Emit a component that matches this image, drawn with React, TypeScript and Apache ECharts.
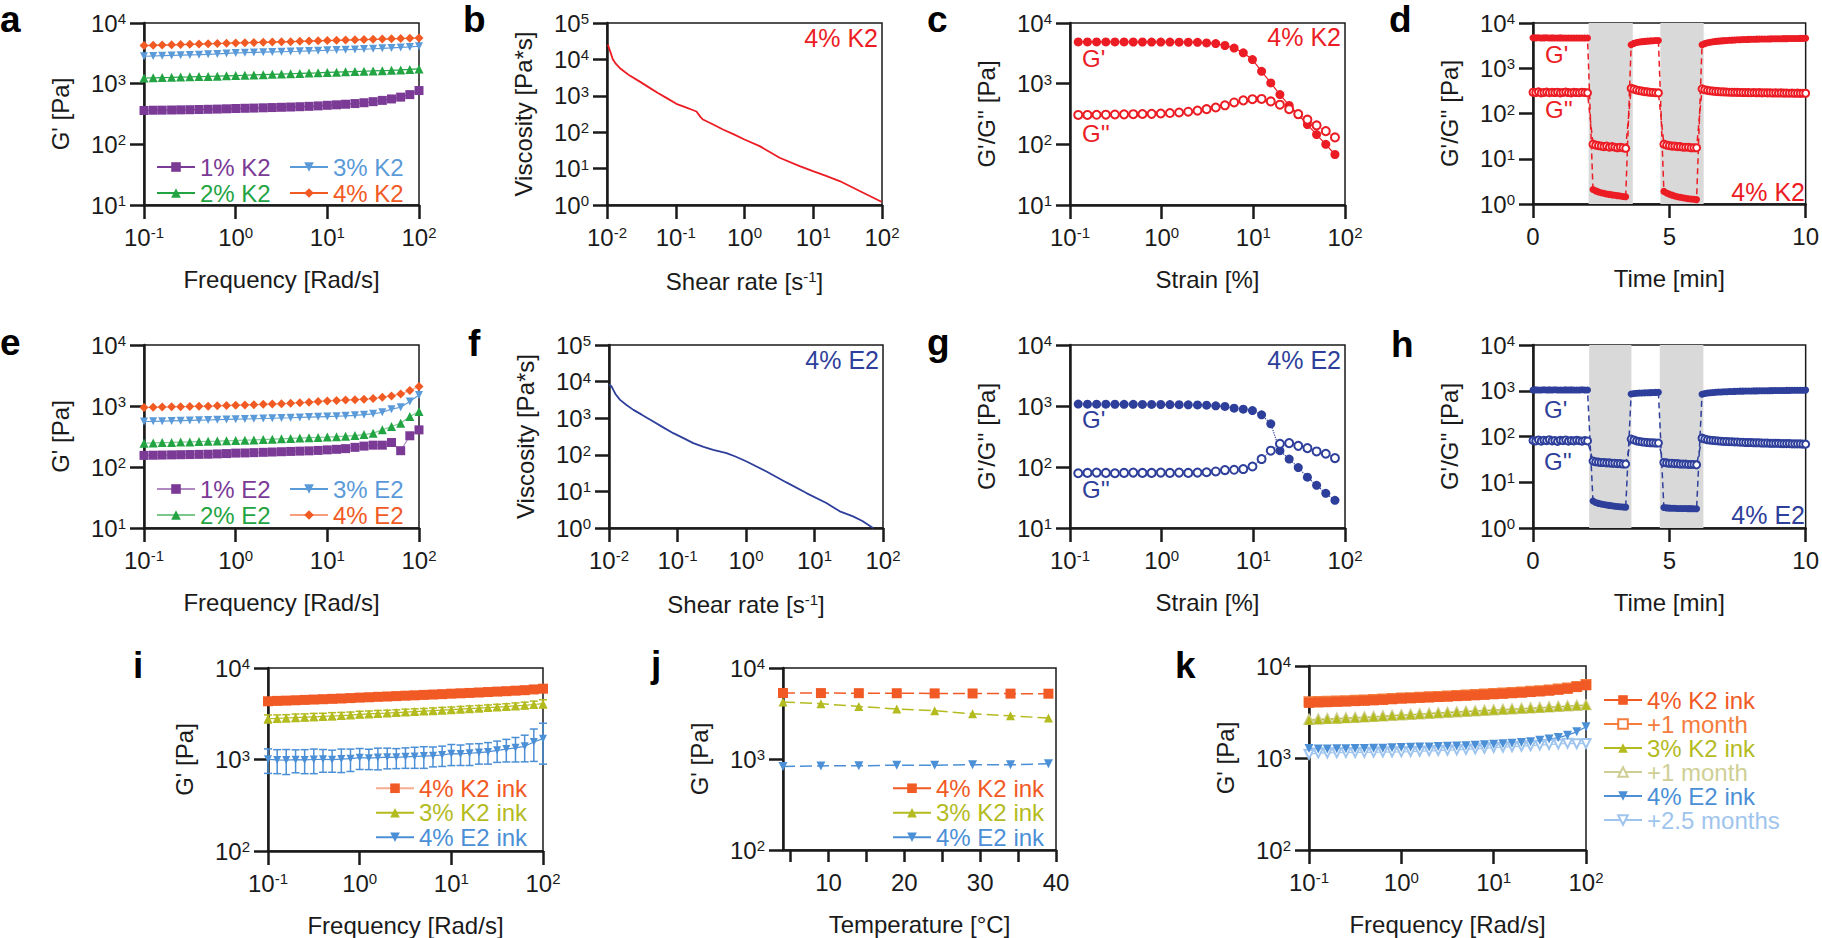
import React, { useEffect, useRef } from 'react';
import * as echarts from 'echarts';

const FF = "'Liberation Sans', Arial, Helvetica, sans-serif";
const INK = '#1a1a1a';

// ---------- colours ----------
const PURPLE = '#7b3a96';
const GREEN = '#23a443';
const LBLUE = '#5b9ad8';
const ORANGE = '#f25a24';
const RED = '#ec1c24';
const NAVY = '#2e3f9b';
const INK_OR = '#f15a24';
const INK_OL = '#b4bb1f';
const INK_BL = '#4b8fd6';
const INK_OR_M = '#f47c3c';
const INK_OL_M = '#cfcf95';
const INK_BL_M = '#9fc5ee';

// ---------- data ----------
const FREQ = [0.1, 0.126, 0.158, 0.2, 0.251, 0.316, 0.398, 0.501, 0.631, 0.794, 1, 1.26, 1.58, 2, 2.51, 3.16, 3.98, 5.01, 6.31, 7.94, 10, 12.6, 15.8, 20, 25.1, 31.6, 39.8, 50.1, 63.1, 79.4, 100];

// panel a (K2 frequency sweeps)
const A_1 = [361, 365, 366, 368, 370, 372, 375, 378, 381, 385, 390, 393, 396, 400, 404, 408, 412, 417, 423, 430, 440, 448, 458, 470, 485, 505, 530, 560, 600, 660, 770];
const A_2 = [1240, 1250, 1262, 1272, 1285, 1295, 1307, 1318, 1330, 1345, 1360, 1376, 1392, 1408, 1424, 1440, 1458, 1475, 1492, 1510, 1530, 1548, 1566, 1584, 1602, 1620, 1640, 1660, 1685, 1715, 1750];
const A_3 = [2830, 2860, 2890, 2920, 2950, 2980, 3010, 3050, 3090, 3150, 3215, 3240, 3270, 3300, 3330, 3360, 3390, 3420, 3460, 3500, 3556, 3590, 3630, 3670, 3710, 3760, 3820, 3880, 3950, 4040, 4140];
const A_4 = [4250, 4290, 4330, 4370, 4410, 4450, 4490, 4540, 4590, 4640, 4690, 4730, 4770, 4810, 4850, 4890, 4930, 4980, 5030, 5080, 5130, 5180, 5230, 5280, 5330, 5380, 5430, 5490, 5550, 5610, 5670];

// panel e (E2 frequency sweeps)
const E_1 = [155, 156, 157, 158, 159, 160, 161, 162, 164, 166, 169, 170, 172, 174, 176, 178, 180, 182, 184, 187, 191, 195, 200, 210, 220, 228, 228, 252, 185, 325, 406];
const E_2 = [246, 248, 251, 253, 256, 258, 261, 264, 266, 269, 272, 275, 278, 282, 286, 290, 294, 298, 302, 305, 309, 314, 320, 328, 340, 359, 407, 461, 522, 672, 811];
const E_3 = [557, 560, 565, 570, 575, 580, 585, 590, 596, 602, 608, 612, 618, 624, 630, 636, 642, 650, 658, 665, 672, 680, 690, 702, 720, 743, 790, 887, 955, 1183, 1520];
const E_4 = [944, 955, 962, 970, 975, 982, 988, 995, 1005, 1018, 1030, 1040, 1052, 1064, 1078, 1092, 1110, 1130, 1150, 1180, 1213, 1230, 1250, 1270, 1295, 1323, 1390, 1465, 1580, 1792, 2085];

// panel b / f (viscosity)
const B_X = [0.0103, 0.0112, 0.0122, 0.0135, 0.0153, 0.018, 0.0214, 0.03, 0.0418, 0.055, 0.073, 0.102, 0.14, 0.169, 0.2, 0.23, 0.249, 0.35, 0.486, 0.7, 1.0, 1.66, 3.24, 6.34, 9.9, 15, 24.2, 47.3, 98];
const B_Y = [25500, 16000, 9880, 7500, 5830, 4600, 3590, 2450, 1650, 1200, 877, 601, 480, 420, 370, 260, 223, 163, 119, 87, 63, 41.5, 19.9, 11.7, 8.55, 6.4, 4.55, 2.42, 1.23];
const F_X = [0.01, 0.0108, 0.01156, 0.0125, 0.0145, 0.018, 0.0227, 0.03, 0.0443, 0.06, 0.0867, 0.12, 0.17, 0.24, 0.332, 0.52, 0.7, 1.02, 1.99, 3.89, 7.62, 14.9, 23.4, 36.5, 50, 71.5];
const F_Y = [8110, 7600, 5930, 4500, 3160, 2300, 1690, 1250, 811, 580, 390, 290, 208, 165, 137, 111, 90, 65.8, 35.1, 17.6, 9.0, 4.8, 2.85, 2.08, 1.55, 1.0];

// panel c / g (strain sweeps)
const STRAIN = [0.123, 0.155, 0.195, 0.246, 0.309, 0.389, 0.49, 0.617, 0.777, 0.978, 1.23, 1.55, 1.95, 2.46, 3.09, 3.89, 4.9, 6.17, 7.77, 9.78, 12.3, 15.5, 19.5, 24.6, 30.9, 38.9, 49, 61.7, 77.7];
const C_G1 = [4880, 4880, 4880, 4870, 4870, 4870, 4860, 4860, 4850, 4850, 4840, 4830, 4820, 4800, 4700, 4580, 4260, 3860, 3230, 2500, 1600, 1030, 660, 437, 310, 212, 145, 100, 68];
const C_G2 = [305, 305, 307, 308, 310, 312, 314, 316, 318, 322, 328, 335, 345, 360, 380, 405, 440, 490, 530, 555, 560, 510, 450, 380, 315, 255, 205, 165, 130];
const G_G1 = [1075, 1072, 1070, 1070, 1068, 1066, 1065, 1062, 1060, 1058, 1055, 1050, 1045, 1040, 1030, 1005, 985, 920, 887, 843, 716, 510, 185, 135, 98, 68, 50, 37, 28.4];
const G_G2 = [79, 80, 81, 80, 79, 80, 81, 80, 80, 81, 80, 81, 80, 81, 82, 84.5, 89, 90, 92.5, 102, 135, 185, 240, 246, 222, 204, 180, 165, 140];

// panel d / h (step strain, time in min)
const TIME = [
  0, 0.1, 0.2, 0.3, 0.4, 0.5, 0.6, 0.7, 0.8, 0.9, 1, 1.1, 1.2, 1.3, 1.4, 1.5, 1.6, 1.7, 1.8, 1.9, 2,
  2.2, 2.3, 2.4, 2.5, 2.6, 2.7, 2.8, 2.9, 3, 3.1, 3.2, 3.3, 3.4,
  3.6, 3.7, 3.8, 3.9, 4, 4.1, 4.2, 4.3, 4.4, 4.5, 4.6,
  4.8, 4.9, 5, 5.1, 5.2, 5.3, 5.4, 5.5, 5.6, 5.7, 5.8, 5.9, 6,
  6.2, 6.3, 6.4, 6.5, 6.6, 6.7, 6.8, 6.9, 7, 7.1, 7.2, 7.3, 7.4, 7.5, 7.6, 7.7, 7.8, 7.9, 8, 8.1, 8.2, 8.3, 8.4, 8.5, 8.6, 8.7, 8.8, 8.9, 9, 9.1, 9.2, 9.3, 9.4, 9.5, 9.6, 9.7, 9.8, 9.9, 10,
];
const D_G1 = [
  4700, 4690, 4700, 4680, 4690, 4700, 4680, 4690, 4670, 4680, 4690, 4670, 4680, 4660, 4670, 4680, 4660, 4670, 4650, 4660, 4650,
  2.1, 1.95, 1.85, 1.78, 1.72, 1.67, 1.63, 1.59, 1.56, 1.53, 1.5, 1.47, 1.45,
  3300, 3550, 3700, 3800, 3870, 3930, 3980, 4020, 4060, 4090, 4120,
  1.9, 1.75, 1.65, 1.57, 1.5, 1.45, 1.41, 1.37, 1.34, 1.31, 1.29, 1.27, 1.25,
  3300, 3500, 3650, 3760, 3850, 3920, 3980, 4030, 4080, 4120, 4160, 4190, 4220, 4250, 4280, 4300, 4320, 4340, 4360, 4380, 4400, 4410, 4420, 4440, 4450, 4460, 4470, 4480, 4490, 4500, 4510, 4520, 4530, 4540, 4550, 4560, 4570, 4580, 4600,
];
const D_G2 = [
  295, 290, 300, 285, 292, 298, 288, 294, 290, 296, 286, 292, 298, 290, 285, 294, 290, 288, 296, 290, 286,
  21, 20, 19.5, 19, 18.5, 19, 18, 18.5, 18, 17.5, 18, 17.5, 17,
  360, 345, 330, 320, 312, 305, 300, 295, 292, 288, 285,
  21, 20, 19.5, 19, 19, 18.5, 18.5, 18, 18, 18, 17.5, 17.5, 17.5,
  350, 335, 325, 318, 312, 308, 305, 302, 300, 298, 296, 295, 294, 293, 292, 291, 290, 289, 288, 290, 287, 289, 286, 288, 285, 287, 284, 286, 283, 285, 282, 284, 281, 283, 280, 282, 279, 281, 280,
];
const H_G1 = [
  1040, 1045, 1038, 1042, 1050, 1040, 1044, 1036, 1048, 1040, 1042, 1038, 1046, 1040, 1044, 1036, 1042, 1040, 1048, 1038, 1040,
  3.9, 3.6, 3.45, 3.35, 3.25, 3.18, 3.12, 3.06, 3.0, 2.96, 2.92, 2.89, 2.86,
  850, 870, 880, 890, 895, 900, 905, 910, 915, 920, 925,
  2.8, 2.75, 2.72, 2.7, 2.7, 2.68, 2.68, 2.66, 2.66, 2.65, 2.65, 2.64, 2.64,
  840, 870, 890, 905, 915, 925, 935, 940, 948, 955, 960, 965, 970, 975, 980, 982, 985, 988, 990, 993, 995, 998, 1000, 1002, 1004, 1006, 1008, 1010, 1012, 1014, 1016, 1018, 1020, 1022, 1024, 1026, 1028, 1030, 1032,
];
const H_G2 = [
  82, 80, 84, 79, 83, 81, 85, 80, 82, 78, 83, 81, 84, 79, 82, 80, 83, 81, 79, 82, 80,
  29, 28, 27.5, 27, 27, 26.5, 26.5, 26, 26, 25.5, 25.5, 25, 25,
  88, 84, 80, 78, 76, 75, 74, 73, 73, 72, 72,
  27, 26.5, 26, 26, 25.5, 25.5, 25, 25, 25, 24.5, 24.5, 24.5, 24,
  92, 88, 85, 83, 82, 81, 80, 79, 78, 78, 77, 77, 76, 76, 75, 75, 74, 74, 74, 73, 73, 73, 72, 72, 72, 71, 71, 71, 71, 70, 70, 70, 70, 69, 69, 69, 69, 68, 68,
];
const SHADE_D = [[2.04, 3.66], [4.67, 6.26]];
const SHADE_H = [[2.06, 3.61], [4.65, 6.25]];

// panel i (inks, with SD)
const I_K4 = [4330, 4370, 4400, 4440, 4480, 4520, 4560, 4600, 4640, 4690, 4745, 4790, 4840, 4880, 4930, 4980, 5030, 5080, 5130, 5180, 5240, 5290, 5340, 5400, 5460, 5520, 5580, 5650, 5720, 5830, 5940];
const I_K3 = [2790, 2810, 2840, 2870, 2900, 2930, 2960, 2990, 3020, 3060, 3115, 3150, 3185, 3220, 3260, 3300, 3340, 3380, 3420, 3460, 3505, 3550, 3595, 3640, 3690, 3740, 3790, 3850, 3910, 3990, 4075];
const I_K3_SD = [280, 260, 250, 270, 250, 260, 240, 260, 250, 240, 250, 240, 250, 240, 230, 250, 240, 230, 240, 250, 240, 250, 260, 250, 260, 270, 280, 300, 320, 360, 420];
const I_E4 = [1005, 990, 985, 995, 990, 1000, 1005, 995, 1010, 1020, 1048, 1035, 1050, 1060, 1055, 1070, 1080, 1090, 1100, 1120, 1158, 1150, 1170, 1190, 1210, 1260, 1300, 1340, 1393, 1553, 1690];
const I_E4_SD = [300, 290, 300, 280, 290, 300, 280, 270, 290, 280, 270, 260, 280, 270, 260, 270, 280, 290, 270, 280, 300, 290, 310, 300, 320, 330, 360, 400, 450, 600, 800];

// panel j (temperature)
const TEMP = [4, 9, 14, 19, 24, 29, 34, 39];
const J_K4 = [5310, 5300, 5290, 5280, 5260, 5250, 5230, 5220];
const J_K3 = [4230, 4050, 3785, 3540, 3390, 3140, 2985, 2815];
const J_E4 = [826, 840, 842, 856, 856, 866, 862, 885];

// panel k (storage)
const K_K4 = [3975, 4010, 4040, 4080, 4110, 4150, 4190, 4230, 4280, 4350, 4430, 4470, 4510, 4550, 4600, 4650, 4700, 4750, 4800, 4860, 4930, 4990, 5060, 5130, 5210, 5300, 5400, 5520, 5660, 5900, 6170];
const K_K4M = [4080, 4100, 4130, 4160, 4200, 4240, 4280, 4320, 4370, 4420, 4480, 4520, 4570, 4620, 4670, 4720, 4770, 4830, 4890, 4950, 5010, 5080, 5150, 5220, 5300, 5390, 5490, 5610, 5760, 5980, 6300];
const K_K3 = [2570, 2600, 2630, 2660, 2690, 2720, 2750, 2790, 2830, 2870, 2920, 2950, 2990, 3030, 3070, 3110, 3150, 3190, 3230, 3270, 3305, 3340, 3380, 3420, 3460, 3500, 3550, 3600, 3650, 3700, 3740];
const K_K3M = [2620, 2650, 2680, 2700, 2730, 2760, 2790, 2820, 2860, 2900, 2940, 2970, 3010, 3050, 3090, 3130, 3170, 3210, 3250, 3290, 3330, 3370, 3410, 3450, 3490, 3530, 3580, 3630, 3680, 3730, 3780];
const K_E4 = [1268, 1250, 1255, 1260, 1262, 1265, 1270, 1275, 1280, 1290, 1300, 1305, 1315, 1320, 1330, 1340, 1350, 1360, 1375, 1390, 1413, 1425, 1445, 1470, 1500, 1561, 1610, 1667, 1770, 1925, 2180];
const K_E4M = [1100, 1130, 1135, 1140, 1145, 1150, 1152, 1155, 1160, 1162, 1167, 1175, 1185, 1195, 1205, 1215, 1225, 1240, 1255, 1275, 1300, 1310, 1325, 1340, 1360, 1380, 1400, 1420, 1445, 1430, 1437];

const J_LABELS = [10, 20, 30, 40];
const J_TICKS = [5, 10, 15, 20, 25, 30, 35, 40];

// ---------- layout ----------
const GRIDS = [
  { left: 144, top: 23, width: 275, height: 182 }, // a
  { left: 607, top: 23, width: 275, height: 182 }, // b
  { left: 1070, top: 23, width: 275, height: 182 }, // c
  { left: 1533, top: 23, width: 274, height: 181 }, // d
  { left: 144, top: 345, width: 275, height: 183 }, // e
  { left: 609, top: 345, width: 274, height: 183 }, // f
  { left: 1070, top: 345, width: 275, height: 183 }, // g
  { left: 1533, top: 345, width: 274, height: 183 }, // h
  { left: 268, top: 668, width: 275, height: 183 }, // i
  { left: 783, top: 668, width: 273, height: 182 }, // j
  { left: 1309, top: 666, width: 277, height: 184 }, // k
];

const supLabel = (v: number) => `{b|10}{s|${Math.round(Math.log10(v))}}`;
const RICH: any = {
  b: { fontSize: 24, fontFamily: FF, color: INK },
  s: { fontSize: 15, fontFamily: FF, color: INK, verticalAlign: 'top' },
};
const NAME_RICH: any = {
  t: { fontSize: 24, fontFamily: FF, color: INK },
  u: { fontSize: 15, fontFamily: FF, color: INK, verticalAlign: 'top' },
};

function baseAxis(gi: number, extra: any) {
  return {
    gridIndex: gi,
    axisLine: { show: true, onZero: false, lineStyle: { color: INK, width: 2.5 } },
    axisTick: { show: true, inside: false, length: 14, lineStyle: { color: INK, width: 2.5 } },
    minorTick: { show: false },
    splitLine: { show: false },
    minorSplitLine: { show: false },
    nameLocation: 'middle',
    nameTextStyle: { fontSize: 24, fontFamily: FF, color: INK, rich: NAME_RICH },
    ...extra,
  };
}
const xLog = (gi: number, min: number, max: number, name: string, gap = 62) =>
  baseAxis(gi, {
    type: 'log', logBase: 10, min, max, name, nameGap: gap,
    axisLabel: { formatter: supLabel, rich: RICH, margin: 20, showMinLabel: true, showMaxLabel: true },
  });
const yLog = (gi: number, min: number, max: number, name: string) =>
  baseAxis(gi, {
    type: 'log', logBase: 10, min, max, name, nameGap: 72,
    axisLabel: { formatter: supLabel, rich: RICH, margin: 18, showMinLabel: true, showMaxLabel: true },
  });
const xVal = (gi: number, min: number, max: number, name: string, extra: any = {}) =>
  baseAxis(gi, {
    type: 'value', min, max, name, nameGap: 62,
    axisLabel: { fontSize: 24, fontFamily: FF, color: INK, margin: 20, showMinLabel: true, showMaxLabel: true, ...(extra.axisLabel || {}) },
    ...(extra.rest || {}),
  });

function ls(name: string, gi: number, xs: number[], ys: number[], color: string, symbol: string, size: number, o: any = {}) {
  return {
    type: 'line', name, xAxisIndex: gi, yAxisIndex: gi,
    data: xs.map((x, i) => [x, ys[i]]),
    symbol, symbolSize: size, symbolRotate: o.rotate || 0,
    showSymbol: symbol !== 'none', showAllSymbol: true,
    itemStyle: { color, borderColor: color, borderWidth: o.bw ?? 0 },
    lineStyle: { color: o.lineColor || color, width: o.lw ?? 1.2, type: o.dash || 'solid', opacity: o.lop ?? 1 },
    emphasis: { disabled: true },
    z: o.z ?? 3, silent: true,
    ...(o.extra || {}),
  };
}

function errSeries(name: string, gi: number, xs: number[], ys: number[], sd: number[], color: string) {
  return {
    type: 'custom', name, xAxisIndex: gi, yAxisIndex: gi, z: 2, silent: true,
    data: xs.map((x, i) => [x, ys[i] - sd[i], ys[i] + sd[i]]),
    encode: { x: 0, y: [1, 2] },
    renderItem: (_p: any, api: any) => {
      const lo = api.coord([api.value(0), api.value(1)]);
      const hi = api.coord([api.value(0), api.value(2)]);
      const w = 4;
      const style = { stroke: color, lineWidth: 1.5, fill: 'none' };
      return {
        type: 'group',
        children: [
          { type: 'line', shape: { x1: lo[0], y1: lo[1], x2: hi[0], y2: hi[1] }, style },
          { type: 'line', shape: { x1: lo[0] - w, y1: lo[1], x2: lo[0] + w, y2: lo[1] }, style },
          { type: 'line', shape: { x1: hi[0] - w, y1: hi[1], x2: hi[0] + w, y2: hi[1] }, style },
        ],
      };
    },
  };
}

function legend(left: number, top: number, lineHeight: number, names: string[], colors: string[], extra: any = {}) {
  return {
    left, top, orient: 'vertical', padding: 0, itemGap: 0, itemWidth: 38, itemHeight: 12,
    selectedMode: false,
    textStyle: { fontSize: 24, fontFamily: FF, lineHeight },
    formatter: (n: string) => n.split('|')[0],
    data: names.map((n, i) => ({ name: n, textStyle: { color: colors[i] } })),
    ...extra,
  };
}

function txt(text: string, x: number, baseline: number, size: number, color: string, bold = false, align = 'left') {
  return {
    type: 'text', x, y: baseline - 0.35 * size, silent: true,
    style: {
      text, fill: color, font: `${bold ? 'bold ' : ''}${size}px ${FF}`,
      align, verticalAlign: 'middle', textAlign: align, textVerticalAlign: 'middle',
    },
  };
}

function buildOption() {
  const xAxis = [
    xLog(0, 0.1, 100, 'Frequency [Rad/s]'),
    xLog(1, 0.01, 100, '{t|Shear rate [s}{u|-1}{t|]}', 64),
    xLog(2, 0.1, 100, 'Strain [%]'),
    xVal(3, 0, 10, 'Time [min]', { rest: { interval: 5 } }),
    xLog(4, 0.1, 100, 'Frequency [Rad/s]'),
    xLog(5, 0.01, 100, '{t|Shear rate [s}{u|-1}{t|]}', 64),
    xLog(6, 0.1, 100, 'Strain [%]'),
    xVal(7, 0, 10, 'Time [min]', { rest: { interval: 5 } }),
    xLog(8, 0.1, 100, 'Frequency [Rad/s]'),
    xVal(9, 4, 40, 'Temperature [°C]', {
      axisLabel: { customValues: J_LABELS },
      rest: { axisTick: { show: true, length: 12, customValues: J_TICKS, lineStyle: { color: INK, width: 2.5 } } },
    }),
    xLog(10, 0.1, 100, 'Frequency [Rad/s]'),
  ];
  const GG = "G'/G'' [Pa]";
  const yAxis = [
    yLog(0, 10, 1e4, "G' [Pa]"),
    yLog(1, 1, 1e5, 'Viscosity [Pa*s]'),
    yLog(2, 10, 1e4, GG),
    yLog(3, 1, 1e4, GG),
    yLog(4, 10, 1e4, "G' [Pa]"),
    yLog(5, 1, 1e5, 'Viscosity [Pa*s]'),
    yLog(6, 10, 1e4, GG),
    yLog(7, 1, 1e4, GG),
    yLog(8, 100, 1e4, "G' [Pa]"),
    yLog(9, 100, 1e4, "G' [Pa]"),
    yLog(10, 100, 1e4, "G' [Pa]"),
  ];

  const shade = (sh: number[][]) => ({
    silent: true,
    itemStyle: { color: '#d9d9d9' },
    data: sh.map(([a, b]) => [{ xAxis: a }, { xAxis: b }]),
  });

  const series: any[] = [
    // a
    ls('1% K2|a', 0, FREQ, A_1, PURPLE, 'rect', 9),
    ls('2% K2|a', 0, FREQ, A_2, GREEN, 'triangle', 9),
    ls('3% K2|a', 0, FREQ, A_3, LBLUE, 'triangle', 8, { rotate: 180 }),
    ls('4% K2|a', 0, FREQ, A_4, ORANGE, 'diamond', 9),
    // b
    ls('visc K2', 1, B_X, B_Y, RED, 'none', 0, { lw: 1.8 }),
    // c
    ls("G' c", 2, STRAIN, C_G1, RED, 'circle', 9, { lw: 1.2 }),
    ls("G'' c", 2, STRAIN, C_G2, RED, 'emptyCircle', 8, { lw: 1, bw: 1.3, lineColor: '#f08080' }),
    // d
    ls("G' d", 3, TIME, D_G1, RED, 'circle', 7, { lw: 1.5, dash: [6, 4], extra: { markArea: shade(SHADE_D) } }),
    ls("G'' d", 3, TIME, D_G2, RED, 'emptyCircle', 7, { lw: 1.5, bw: 1.2, dash: [6, 4] }),
    // e
    ls('1% E2|e', 4, FREQ, E_1, PURPLE, 'rect', 9, { lop: 0.6 }),
    ls('2% E2|e', 4, FREQ, E_2, GREEN, 'triangle', 9, { lop: 0.6 }),
    ls('3% E2|e', 4, FREQ, E_3, LBLUE, 'triangle', 8, { rotate: 180 }),
    ls('4% E2|e', 4, FREQ, E_4, ORANGE, 'diamond', 9, { lop: 0.6 }),
    // f
    ls('visc E2', 5, F_X, F_Y, NAVY, 'none', 0, { lw: 1.8 }),
    // g
    ls("G' g", 6, STRAIN, G_G1, NAVY, 'circle', 9, { lw: 1.2, dash: 'dotted' }),
    ls("G'' g", 6, STRAIN, G_G2, NAVY, 'emptyCircle', 8, { lw: 1, bw: 1.3, lineColor: '#7f8cc8' }),
    // h
    ls("G' h", 7, TIME, H_G1, NAVY, 'circle', 7, { lw: 1.5, dash: [6, 4], extra: { markArea: shade(SHADE_H) } }),
    ls("G'' h", 7, TIME, H_G2, NAVY, 'emptyCircle', 7, { lw: 1.5, bw: 1.2, dash: [6, 4] }),
    // i
    errSeries('sd K3 i', 8, FREQ, I_K3, I_K3_SD, INK_OL),
    errSeries('sd E4 i', 8, FREQ, I_E4, I_E4_SD, INK_BL),
    ls('4% K2 ink|i', 8, FREQ, I_K4, INK_OR, 'rect', 10, { lop: 0.5 }),
    ls('3% K2 ink|i', 8, FREQ, I_K3, INK_OL, 'triangle', 9),
    ls('4% E2 ink|i', 8, FREQ, I_E4, INK_BL, 'triangle', 8, { rotate: 180 }),
    // j
    ls('4% K2 ink|j', 9, TEMP, J_K4, INK_OR, 'rect', 10, { lw: 1.5, dash: [12, 5] }),
    ls('3% K2 ink|j', 9, TEMP, J_K3, INK_OL, 'triangle', 9, { lw: 1.5, dash: [12, 5] }),
    ls('4% E2 ink|j', 9, TEMP, J_E4, INK_BL, 'triangle', 9, { rotate: 180, lw: 1.5, dash: [12, 5] }),
    // k
    ls('+1 month|k1', 10, FREQ, K_K4M, INK_OR_M, 'emptyRect', 9, { bw: 1.3 }),
    ls('4% K2 ink|k', 10, FREQ, K_K4, INK_OR, 'rect', 10),
    ls('+1 month|k2', 10, FREQ, K_K3M, INK_OL_M, 'emptyTriangle', 9, { bw: 1.3 }),
    ls('3% K2 ink|k', 10, FREQ, K_K3, INK_OL, 'triangle', 9),
    ls('+2.5 months|k', 10, FREQ, K_E4M, INK_BL_M, 'emptyTriangle', 9, { rotate: 180, bw: 1.3 }),
    ls('4% E2 ink|k', 10, FREQ, K_E4, INK_BL, 'triangle', 9, { rotate: 180 }),
  ];

  const legends = [
    legend(156, 154, 26, ['1% K2|a', '2% K2|a'], [PURPLE, GREEN]),
    legend(289, 154, 26, ['3% K2|a', '4% K2|a'], [LBLUE, ORANGE]),
    legend(156, 476, 26, ['1% E2|e', '2% E2|e'], [PURPLE, GREEN]),
    legend(289, 476, 26, ['3% E2|e', '4% E2|e'], [LBLUE, ORANGE]),
    legend(375, 776, 24.5, ['4% K2 ink|i', '3% K2 ink|i', '4% E2 ink|i'], [INK_OR, INK_OL, INK_BL]),
    legend(892, 776, 24.5, ['4% K2 ink|j', '3% K2 ink|j', '4% E2 ink|j'], [INK_OR, INK_OL, INK_BL], { lineStyle: { type: 'solid' } }),
    legend(1603, 688, 23, ['4% K2 ink|k', '+1 month|k1', '3% K2 ink|k', '+1 month|k2', '4% E2 ink|k', '+2.5 months|k'],
      [INK_OR, INK_OR_M, INK_OL, INK_OL_M, INK_BL, INK_BL_M]),
  ];

  const graphics = [
    txt('a', 0, 32, 37, '#000', true),
    txt('b', 463, 32, 37, '#000', true),
    txt('c', 927, 32, 37, '#000', true),
    txt('d', 1389, 32, 37, '#000', true),
    txt('e', 0, 355, 37, '#000', true),
    txt('f', 468, 356, 37, '#000', true),
    txt('g', 927, 355, 37, '#000', true),
    txt('h', 1391, 357, 37, '#000', true),
    txt('i', 133, 678, 37, '#000', true),
    txt('j', 651, 677, 37, '#000', true),
    txt('k', 1175, 678, 37, '#000', true),
    txt('4% K2', 878, 47, 25, RED, false, 'right'),
    txt('4% K2', 1341, 46, 25, RED, false, 'right'),
    txt("G'", 1082, 67, 24, RED),
    txt("G''", 1082, 142, 24, RED),
    txt("G'", 1545, 63, 24, RED),
    txt("G''", 1545, 118, 24, RED),
    txt('4% K2', 1805, 201, 25, RED, false, 'right'),
    txt('4% E2', 879, 369, 25, NAVY, false, 'right'),
    txt('4% E2', 1341, 369, 25, NAVY, false, 'right'),
    txt("G'", 1082, 428, 24, NAVY),
    txt("G''", 1082, 498, 24, NAVY),
    txt("G'", 1544, 418, 24, NAVY),
    txt("G''", 1544, 470, 24, NAVY),
    txt('4% E2', 1805, 524, 25, NAVY, false, 'right'),
  ];

  return {
    animation: false,
    backgroundColor: '#ffffff',
    textStyle: { fontFamily: FF },
    grid: GRIDS.map((g) => ({ ...g, show: true, borderColor: INK, borderWidth: 1.5, backgroundColor: 'transparent', containLabel: false })),
    xAxis,
    yAxis,
    legend: legends,
    series,
    graphic: { elements: graphics },
  };
}

export default function App() {
  const ref = useRef<HTMLDivElement>(null);
  useEffect(() => {
    document.body.style.margin = '0';
    const chart = echarts.init(ref.current as HTMLDivElement, null, { renderer: 'svg', width: 1822, height: 938 });
    chart.setOption(buildOption() as any);
    return () => {
      chart.dispose();
    };
  }, []);
  return <div ref={ref} style={{ width: 1822, height: 938, background: '#fff' }} />;
}
